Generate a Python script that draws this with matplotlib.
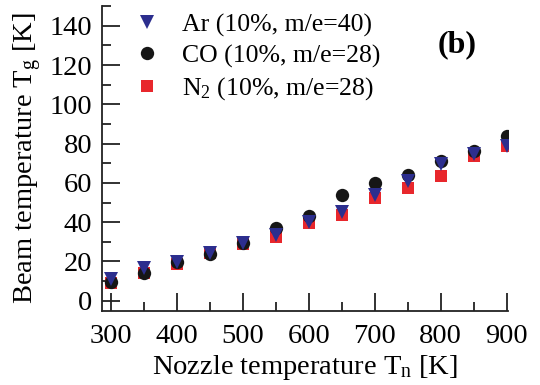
import matplotlib
matplotlib.use("Agg")
import matplotlib.pyplot as plt
from matplotlib.ticker import MultipleLocator

plt.rcParams['font.family'] = ['Liberation Serif', 'DejaVu Serif']
plt.rcParams['mathtext.fontset'] = 'custom'
plt.rcParams['mathtext.rm'] = 'Liberation Serif'
plt.rcParams['mathtext.it'] = 'Liberation Serif:italic'

# nozzle temperatures [K]
t_nozzle = [300, 350, 400, 450, 500, 550, 600, 650, 700, 750, 800, 850, 900]

# beam temperatures [K]
ar_vals = [11.0, 16.5, 19.7, 24.5, 29.6, 33.5, 40.3, 45.4, 53.9, 60.7, 69.6, 74.8, 78.6]
co_vals = [9.7, 14.0, 19.5, 23.8, 29.6, 36.9, 43.2, 53.9, 59.9, 64.1, 70.9, 76.0, 83.7]
n2_vals = [9.0, 14.0, 18.5, 24.5, 29.0, 32.3, 39.5, 43.7, 52.2, 57.3, 63.3, 73.8, 78.9]

labels = ['Ar (10%, m/e=40)', 'CO (10%, m/e=28)', r'N$_2$ (10%, m/e=28)']

fig = plt.figure(figsize=(5.4, 3.85), dpi=100)
ax = fig.add_axes([0.189, 0.192, 0.752, 0.792])

fs = 20.5
h_n2, = ax.plot(t_nozzle, n2_vals, 's', color='#e8272c', markersize=8.8,
                markeredgewidth=0, zorder=3)
h_co, = ax.plot(t_nozzle, co_vals, 'o', color='#161616', markersize=9.6,
                markeredgewidth=0, zorder=4)
h_ar, = ax.plot(t_nozzle, ar_vals, 'v', color='#2c2e8e', markersize=10,
                markeredgewidth=0, zorder=5)

ax.set_xlim(287, 902)
ax.set_ylim(-5.3, 150)
ax.xaxis.set_major_locator(MultipleLocator(100))
ax.xaxis.set_minor_locator(MultipleLocator(50))
ax.yaxis.set_major_locator(MultipleLocator(20))
ax.yaxis.set_minor_locator(MultipleLocator(10))

for s in ['top', 'right']:
    ax.spines[s].set_visible(False)
for s in ['left', 'bottom']:
    ax.spines[s].set_linewidth(1.3)
    ax.spines[s].set_color('#222222')

ax.tick_params(which='both', direction='in', width=1.3, color='#222222',
               labelsize=fs)
ax.tick_params(which='major', length=13)
ax.tick_params(which='minor', length=6.5)
ax.tick_params(axis='x', which='major', pad=9)
ax.tick_params(axis='y', which='major', pad=7)

ax.set_xlabel(r'Nozzle temperature T$_\mathrm{n}$ [K]', fontsize=fs, labelpad=3)
ax.set_ylabel(r'Beam temperature T$_\mathrm{g}$ [K]', fontsize=fs, labelpad=4)

leg = ax.legend([h_ar, h_co, h_n2], labels, loc='upper left',
                bbox_to_anchor=(0.042, 1.01), frameon=False, fontsize=18.5,
                handletextpad=0.65, labelspacing=0.3, borderaxespad=0,
                handlelength=1.4)

ax.text(0.874, 0.872, '(b)', transform=ax.transAxes, fontsize=23,
        fontweight='bold', ha='center', va='center')

fig.savefig('out.png', dpi=100)
